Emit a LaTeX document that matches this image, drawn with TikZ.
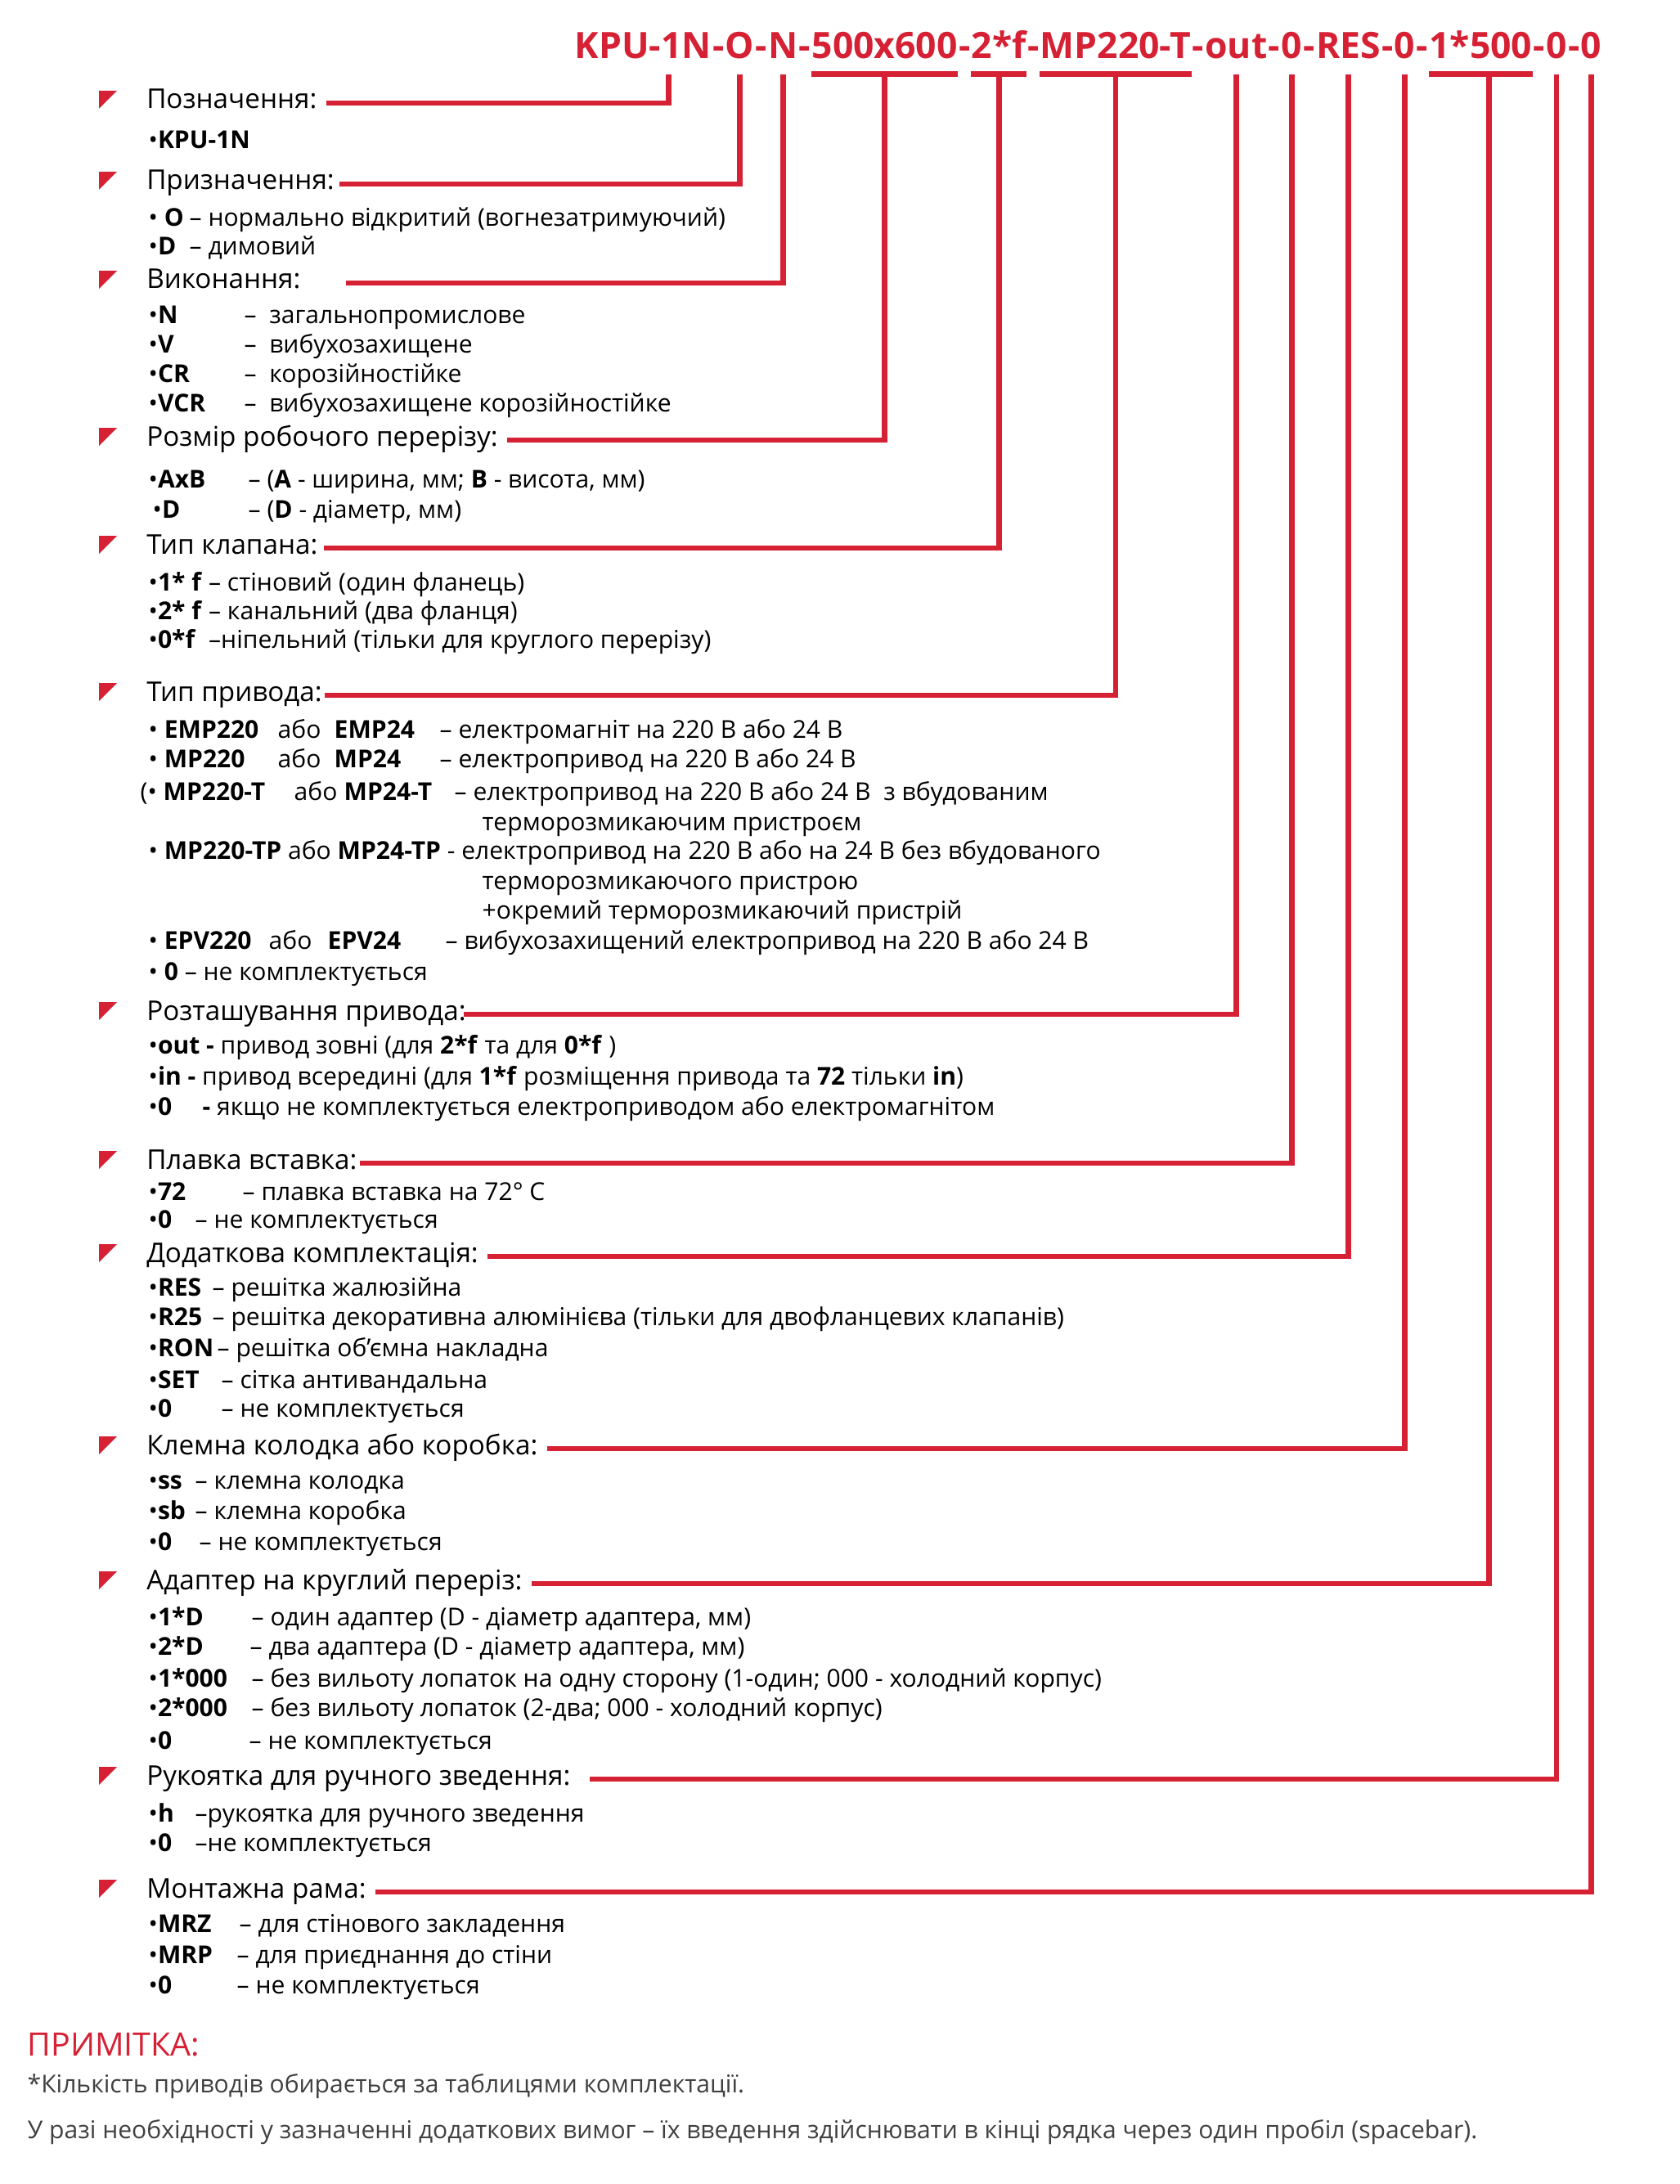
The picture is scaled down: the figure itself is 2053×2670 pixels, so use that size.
\documentclass[tikz,border=0pt]{standalone}
\usepackage{fontspec}
\setmainfont{Open Sans}
\usetikzlibrary{calc, positioning}
\definecolor{KeyRed}{RGB}{214,32,52}
\newlength{\pxu}\setlength{\pxu}{0.01cm}
\newcommand{\keycol}[2]{\makebox[#1\pxu][l]{#2}}

\begin{document}
\begin{tikzpicture}[x=0.01cm, y=-0.01cm,
  seg/.style={inner sep=0pt, text height=0.32cm, text depth=0.18cm,
    text=KeyRed, font=\fontsize{12.65}{14}\selectfont\bfseries},
  head/.style={anchor=base west, inner xsep=3pt, inner ysep=0pt,
    text height=6.5pt, text depth=2.5pt, font=\fontsize{9.45}{11}\selectfont},
  opt/.style={anchor=base west, inner sep=0pt, font=\fontsize{8.55}{10}\selectfont},
  note/.style={anchor=base west, inner sep=0pt, text=black!75,
    font=\fontsize{8.55}{10}\selectfont},
  link/.style={draw=KeyRed, line width=1.9pt},
  tri/.style={fill=KeyRed}
]
\useasboundingbox (0,0) rectangle (2053,2670);

% code line
\node[seg, anchor=base west] (c1) at (702,72) {KPU-1N};
\foreach \t [count=\i from 2] in {-,O,-,N,-,500x600,-,2*f,-,MP220-T,-,out,-,0,-,RES,-,0,-,1*500,-,0,-,0}{
  \pgfmathtruncatemacro{\j}{\i-1}
  \node[seg, right=0pt of c\j] (c\i) {\t};
}

% headings
\node[head] (h1)  at (168,133)  {Позначення:};
\node[head] (h2)  at (168,232)  {Призначення:};
\node[head] (h3)  at (168,353)  {Виконання:};
\node[head] (h4)  at (168,545)  {Розмір робочого перерізу:};
\node[head] (h5)  at (168,677)  {Тип клапана:};
\node[head] (h6)  at (168,857)  {Тип привода:};
\node[head] (h7)  at (168,1247) {Розташування привода:};
\node[head] (h8)  at (168,1429) {Плавка вставка:};
\node[head] (h9)  at (168,1543) {Додаткова комплектація:};
\node[head] (h10) at (168,1778) {Клемна колодка або коробка:};
\node[head] (h11) at (168,1943) {Адаптер на круглий переріз:};
\node[head] (h12) at (168,2182) {Рукоятка для ручного зведення:};
\node[head] (h13) at (168,2320) {Монтажна рама:};

\foreach \k in {1,...,13}
  \fill[tri] ($(h\k.base west)+(-47,-22)$) -- ++(22,0) -- ++(-22,22) -- cycle;

% options
\node[opt] (kpu) at (181,182) {•\textbf{KPU-1N}};

\node[opt] (vO) at (181,277) {\keycol{50}{• \textbf{O}}– нормально відкритий (вогнезатримуючий)};
\node[opt] (vD) at (181,312) {\keycol{50}{•\textbf{D}}– димовий};

\node[opt] (eN)   at (181,396) {\keycol{117}{•\textbf{N}}–\ \ загальнопромислове};
\node[opt] (eV)   at (181,432) {\keycol{117}{•\textbf{V}}–\ \ вибухозахищене};
\node[opt] (eCR)  at (181,468) {\keycol{117}{•\textbf{CR}}–\ \ корозійностійке};
\node[opt] (eVCR) at (181,503) {\keycol{117}{•\textbf{VCR}}–\ \ вибухозахищене корозійностійке};

\node[opt] (sAB) at (181,596) {\keycol{122}{•\textbf{AxB}}– (\textbf{A} - ширина, мм; \textbf{B} - висота, мм)};
\node[opt] (sD)  at (186,633) {\keycol{117}{•\textbf{D}}– (\textbf{D} - діаметр, мм)};

\node[opt] (f1) at (181,722) {•\textbf{1* f} – стіновий (один фланець)};
\node[opt] (f2) at (181,757) {•\textbf{2* f} – канальний (два фланця)};
\node[opt] (f0) at (181,792) {•\textbf{0*f}\ \ –ніпельний (тільки для круглого перерізу)};

\node[opt] (dEMP)   at (181,902)  {\keycol{158}{• \textbf{EMP220}}\keycol{69}{або}\keycol{129}{\textbf{EMP24}}– електромагніт на 220 В або 24 В};
\node[opt] (dMP)    at (181,938)  {\keycol{158}{• \textbf{MP220}}\keycol{69}{або}\keycol{129}{\textbf{MP24}}– електропривод на 220 В або 24 В};
\node[opt] (dMPT)   at (171,978)  {\keycol{188}{(• \textbf{MP220-T}}\keycol{61}{або}\keycol{135}{\textbf{MP24-T}}– електропривод на 220 В або 24 В\ \ з вбудованим};
\node[opt] (dMPTa)  at (589,1015) {терморозмикаючим пристроєм};
\node[opt] (dMPTP)  at (181,1050) {• \textbf{MP220-TP} або \textbf{MP24-TP} - електропривод на 220 В або на 24 В без вбудованого};
\node[opt] (dMPTPa) at (589,1087) {терморозмикаючого пристрою};
\node[opt] (dMPTPb) at (589,1123) {+окремий терморозмикаючий пристрій};
\node[opt] (dEPV)   at (181,1160) {\keycol{147}{• \textbf{EPV220}}\keycol{72}{або}\keycol{144}{\textbf{EPV24}}– вибухозахищений електропривод на 220 В або 24 В};
\node[opt] (d0)     at (181,1198) {• \textbf{0} – не комплектується};

\node[opt] (lOut) at (181,1288) {•\textbf{out -} привод зовні (для \textbf{2*f} та для \textbf{0*f} )};
\node[opt] (lIn)  at (181,1326) {•\textbf{in -} привод всередині (для \textbf{1*f} розміщення привода та \textbf{72} тільки \textbf{in})};
\node[opt] (l0)   at (181,1363) {\keycol{66}{•\textbf{0}}\textbf{-} якщо не комплектується електроприводом або електромагнітом};

\node[opt] (p72) at (181,1467) {\keycol{115}{•\textbf{72}}– плавка вставка на 72° C};
\node[opt] (p0)  at (181,1501) {\keycol{57}{•\textbf{0}}– не комплектується};

\node[opt] (aRES) at (181,1584) {\keycol{78}{•\textbf{RES}}– решітка жалюзійна};
\node[opt] (aR25) at (181,1620) {\keycol{78}{•\textbf{R25}}– решітка декоративна алюмінієва (тільки для двофланцевих клапанів)};
\node[opt] (aRON) at (181,1658) {\keycol{84}{•\textbf{RON}}– решітка об’ємна накладна};
\node[opt] (aSET) at (181,1697) {\keycol{89}{•\textbf{SET}}– сітка антивандальна};
\node[opt] (a0)   at (181,1732) {\keycol{89}{•\textbf{0}}– не комплектується};

\node[opt] (bSS) at (181,1820) {\keycol{57}{•\textbf{ss}}– клемна колодка};
\node[opt] (bSB) at (181,1857) {\keycol{57}{•\textbf{sb}}– клемна коробка};
\node[opt] (b0)  at (181,1895) {\keycol{62}{•\textbf{0}}– не комплектується};

\node[opt] (rD1)   at (181,1987) {\keycol{126}{•\textbf{1*D}}– один адаптер (D - діаметр адаптера, мм)};
\node[opt] (rD2)   at (181,2023) {\keycol{124}{•\textbf{2*D}}– два адаптера (D - діаметр адаптера, мм)};
\node[opt] (r1000) at (181,2062) {\keycol{126}{•\textbf{1*000}}– без вильоту лопаток на одну сторону (1-один; 000 - холодний корпус)};
\node[opt] (r2000) at (181,2098) {\keycol{126}{•\textbf{2*000}}– без вильоту лопаток (2-два; 000 - холодний корпус)};
\node[opt] (r0)    at (181,2138) {\keycol{123}{•\textbf{0}}– не комплектується};

\node[opt] (kH) at (181,2227) {\keycol{57}{•\textbf{h}}–рукоятка для ручного зведення};
\node[opt] (k0) at (181,2263) {\keycol{57}{•\textbf{0}}–не комплектується};

\node[opt] (mMRZ) at (181,2362) {\keycol{111}{•\textbf{MRZ}}– для стінового закладення};
\node[opt] (mMRP) at (181,2400) {\keycol{108}{•\textbf{MRP}}– для приєднання до стіни};
\node[opt] (m0)   at (181,2437) {\keycol{108}{•\textbf{0}}– не комплектується};

% note
\node[anchor=base west, inner sep=0pt, text=KeyRed, font=\fontsize{11.2}{13}\selectfont] (notehd) at (33,2513) {ПРИМІТКА:};
\node[note] (note1) at (33,2558) {*Кількість приводів обирається за таблицями комплектації.};
\node[note] (note2) at (33,2614) {У разі необхідності у зазначенні додаткових вимог – їх введення здійснювати в кінці рядка через один пробіл (spacebar).};

% connectors
\draw[link] (h1.east) -| ([xshift=-0.53cm]c1.south east);
\foreach \k/\s/\d/\e in {2/3/-0.05/0, 3/5/0.44/0, 4/7/0/0, 5/9/-0.04/0, 6/11/-0.08/0, 7/13/-0.14/0,
    8/15/-0.08/0, 9/17/0/0, 10/19/0/0, 11/21/0/0.1, 12/23/0.12/0, 13/25/0/0}
  \draw[link] ([xshift=\d cm]h\k.east) -| ([xshift=\e cm]c\s.south);
\foreach \s in {7,9,11,21}
  \draw[link] (c\s.south west) -- (c\s.south east);
\end{tikzpicture}
\end{document}
